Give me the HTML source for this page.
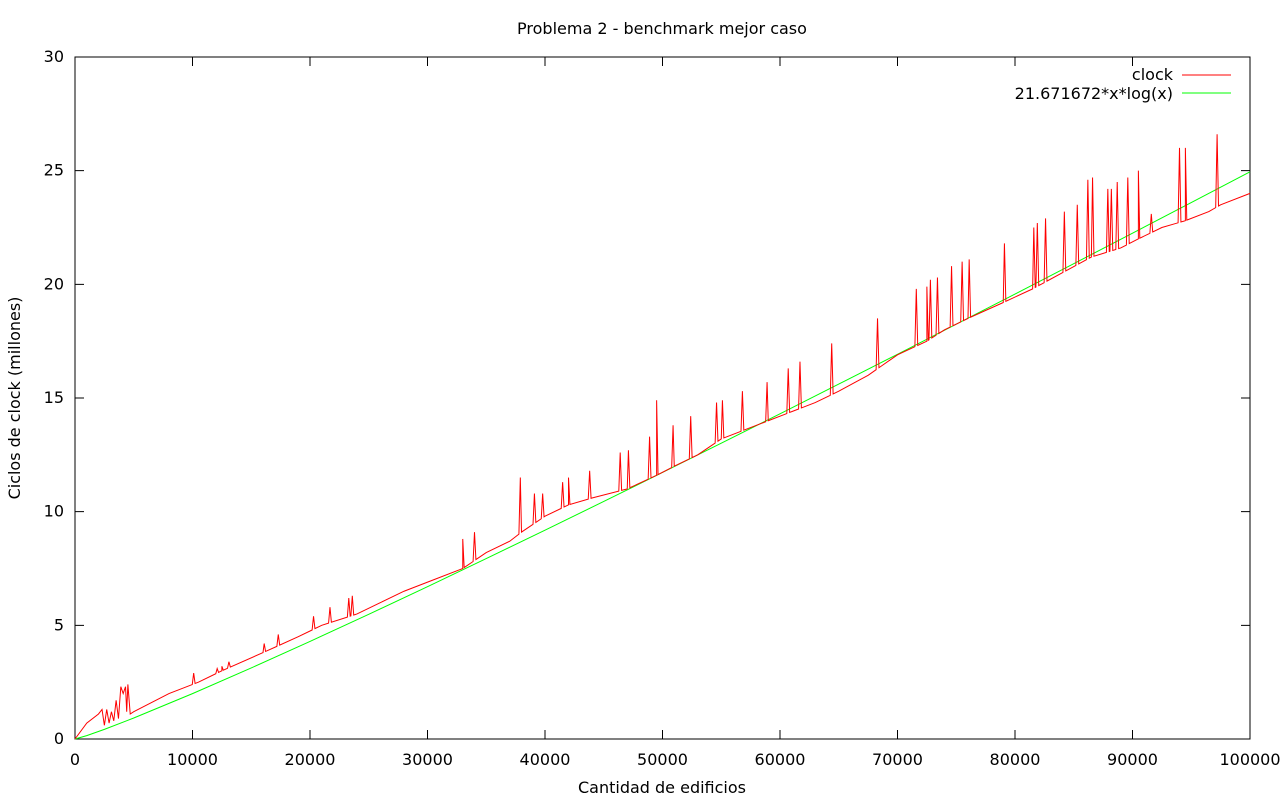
<!DOCTYPE html>
<html><head><meta charset="utf-8"><style>
body{margin:0;background:#fff;overflow:hidden;}
svg text{font-family:"DejaVu Sans","Liberation Sans",sans-serif;font-size:16px;fill:#000;}
</style></head><body>
<svg id="chart" width="1280" height="800" xmlns="http://www.w3.org/2000/svg">
<text x="662" y="34" text-anchor="middle">Problema 2 - benchmark mejor caso</text>
<text x="662" y="793" text-anchor="middle">Cantidad de edificios</text>
<text transform="translate(20,398) rotate(-90)" text-anchor="middle">Ciclos de clock (millones)</text>
<g id="axes"></g>
<g id="series"></g>
<g>
<text x="1173" y="80" text-anchor="end">clock</text>
<line x1="1182" y1="75" x2="1231" y2="75" stroke="#ff0000"/>
<text x="1173" y="99" text-anchor="end">21.671672*x*log(x)</text>
<line x1="1182" y1="93" x2="1231" y2="93" stroke="#00ff00"/>
</g>
</svg>
<script>
const xTicks=[0,10000,20000,30000,40000,50000,60000,70000,80000,90000,100000];
const yTicks=[0,5,10,15,20,25,30];
const fitX=[0,1000,2500,5000,10000,15000,20000,25000,30000,35000,40000,45000,50000,55000,60000,65000,70000,75000,80000,85000,90000,95000,100000];
const fitY=[0,0.150,0.424,0.923,1.996,3.126,4.293,5.486,6.702,7.936,9.186,10.449,11.724,13.010,14.306,15.611,16.924,18.245,19.573,20.908,22.250,23.597,24.950];
const baseX=[0,1000,2000,2300,2500,2700,2900,3100,3300,3500,3700,3900,4100,4300,4400,4500,4700,5000,8000,10500,12500,16000,19000,21000,24000,26000,28000,30500,33000,35000,37000,38000,40000,42000,44000,47000,49500,51000,53000,55000,57000,59000,61000,63000,65000,67500,70000,72500,74000,76000,79000,81500,84000,86500,89000,90500,92500,94500,96500,97500,100000];
const baseY=[0,0.7,1.1,1.3,0.6,1.3,0.7,1.2,0.8,1.7,0.9,2.3,2.0,2.3,1.2,2.4,1.1,1.2,2.0,2.5,3.0,3.8,4.5,5.0,5.5,6.0,6.5,7.0,7.5,8.2,8.7,9.1,9.8,10.3,10.6,11.0,11.6,12.0,12.5,13.2,13.6,14.0,14.4,14.8,15.3,16.0,16.9,17.5,18.0,18.5,19.2,19.8,20.5,21.2,21.6,22.0,22.5,22.8,23.2,23.5,24.0];
const spikeX=[10100,12100,12500,13100,16100,17300,20300,21700,23300,23600,33000,34000,37900,39100,39800,41500,42000,43800,46400,47100,48900,49500,50900,52400,54600,55100,56800,58900,60700,61700,64400,68300,71600,72500,72800,73400,74600,75500,76100,79100,81600,81900,82600,84200,85300,86200,86600,87900,88200,88700,89600,90500,91600,94000,94500,97200];
const spikeY=[2.9,3.1,3.2,3.4,4.2,4.6,5.4,5.8,6.2,6.3,8.8,9.1,11.5,10.8,10.8,11.3,11.5,11.8,12.6,12.7,13.3,14.9,13.8,14.2,14.8,14.9,15.3,15.7,16.3,16.6,17.4,18.5,19.8,19.9,20.2,20.3,20.8,21.0,21.1,21.8,22.5,22.7,22.9,23.2,23.5,24.6,24.7,24.2,24.2,24.5,24.7,25.0,23.1,26.0,26.0,26.6];
const L=75,R=1250,T=57,B=739;
const sx=v=>L+(v-0)/100000*(R-L);
const sy=v=>B-v/30*(B-T);
const NS="http://www.w3.org/2000/svg";
function mk(tag,attrs,parent){const e=document.createElementNS(NS,tag);for(const k in attrs)e.setAttribute(k,attrs[k]);parent.appendChild(e);return e;}
const axes=document.getElementById('axes');
const frame=mk('rect',{x:L,y:T,width:R-L,height:B-T,fill:'none',stroke:'#000'},axes);


xTicks.forEach(t=>{
  const x=sx(t);
  const l=mk('path',{d:`M${x},${B}v-9M${x},${T}v9`,stroke:'#000'},axes);
  
  
  const tx=mk('text',{x:x,y:B+26,'text-anchor':'middle'},axes);tx.textContent=t;
  
  
});
yTicks.forEach(t=>{
  const y=sy(t);
  const l=mk('path',{d:`M${L},${y}h9M${R},${y}h-9`,stroke:'#000'},axes);
  
  
  const tx=mk('text',{x:L-11,y:y+5,'text-anchor':'end'},axes);tx.textContent=t;
  
  
});
function baseAt(x){for(let i=1;i<baseX.length;i++){if(x<=baseX[i]){const f=(x-baseX[i-1])/(baseX[i]-baseX[i-1]);return baseY[i-1]+f*(baseY[i]-baseY[i-1]);}}return baseY[baseY.length-1];}
let pts=baseX.map((x,i)=>[x,baseY[i]]);
spikeX.forEach((x,i)=>{pts.push([x-120,baseAt(x-120)]);pts.push([x,spikeY[i]]);pts.push([x+120,baseAt(x+120)]);});
pts.sort((a,b)=>a[0]-b[0]);
const ser=document.getElementById('series');
const g=mk('polyline',{points:fitX.map((x,i)=>sx(x)+','+sy(fitY[i])).join(' '),fill:'none',stroke:'#00ff00','stroke-width':1},ser);


const r=mk('polyline',{points:pts.map(p=>sx(p[0])+','+sy(p[1])).join(' '),fill:'none',stroke:'#ff0000','stroke-width':1},ser);


</script>
</body></html>
